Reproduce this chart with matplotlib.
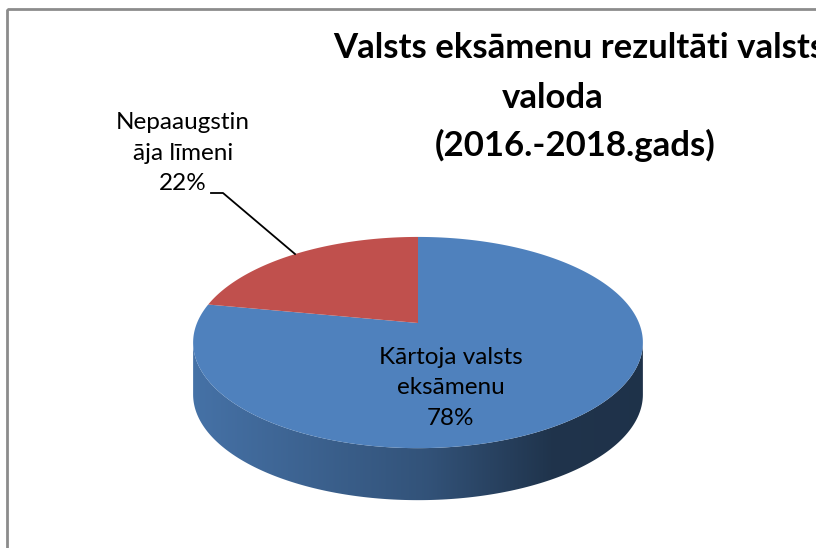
import numpy as np
import matplotlib
matplotlib.use("Agg")
import matplotlib.pyplot as plt
from matplotlib.patches import Polygon, Rectangle
from matplotlib.colors import LinearSegmentedColormap, to_rgb

# data
categories = ["Kārtoja valsts\neksāmenu", "Nepaaugstin\nāja līmeni"]
values = [78, 22]
colors = ["#4F81BD", "#C0504D"]
title_lines = ["Valsts eksāmenu rezultāti valsts", "valoda", "(2016.-2018.gads)"]

# 3d pie look (pixel space)
cx, cy = 418, 323
a, b, k = 221, 102, 0.185
depth = 52

def proj(th, dy=0):
    u, v = np.cos(th), np.sin(th)
    s = 1 + k * v
    return cx + a * u / s, cy - b * v / s + dy

fig = plt.figure(figsize=(8.16, 5.48), dpi=100)
ax = fig.add_axes([0, 0, 1, 1])
ax.set_xlim(0, 816)
ax.set_ylim(548, 0)
ax.axis("off")

# chart border
ax.add_patch(Rectangle((7, 9), 830, 560, fill=False, ec="#8c8c8c", lw=2))

total = float(sum(values))
start = np.pi / 2
edges = [start]
for v in values:
    edges.append(edges[-1] - 2 * np.pi * v / total)

# visible front arc of the side
lo = np.pi + np.arcsin(k)
hi = 2 * np.pi - np.arcsin(k)

for i, c in enumerate(colors):
    t0, t1 = edges[i + 1], edges[i]
    # side band
    for shift in (-2 * np.pi, 0, 2 * np.pi):
        s0, s1 = max(t0 + shift, lo), min(t1 + shift, hi)
        if s1 <= s0:
            continue
        th = np.linspace(s0, s1, 200)
        xt, yt = proj(th)
        xb, yb = proj(th[::-1], depth)
        poly = Polygon(np.column_stack([np.r_[xt, xb], np.r_[yt, yb]]),
                       closed=True, fc="none", ec="none")
        ax.add_patch(poly)
        base = np.array(to_rgb(c))
        cmap = LinearSegmentedColormap.from_list(
            "side", [(0, base * 0.88), (0.52, base * 0.64), (0.8, base * 0.40), (1, base * 0.39)])
        grad = np.linspace(0, 1, 256)[None, :]
        xl, xr = proj(lo)[0], proj(hi)[0]
        im = ax.imshow(grad, cmap=cmap, aspect="auto",
                       extent=(xl, xr, cy + 250, cy - 50), zorder=1)
        im.set_clip_path(poly)
    # top face
    th = np.linspace(t0, t1, 300)
    x, y = proj(th)
    ax.add_patch(Polygon(np.column_stack([np.r_[cx, x], np.r_[cy, y]]),
                         closed=True, fc=c, ec="none", zorder=2))

ax.set_xlim(0, 816)
ax.set_ylim(548, 0)

# data labels
lab_font = dict(family=["Lato", "DejaVu Sans"], fontsize=17.5, color="black",
                ha="center", va="center", linespacing=1.55)
ax.text(451, 388, categories[0] + "\n%d%%" % values[0], zorder=3, **lab_font)
ax.text(183, 153, categories[1] + "\n%d%%" % values[1], zorder=3, **lab_font)
ax.plot([211, 223, 295], [193, 193, 254], color="black", lw=1.3, zorder=3)

# title
tfont = dict(family=["Lato", "DejaVu Sans"], fontsize=25, fontweight="bold",
             color="black", va="center", zorder=3)
ax.text(333, 48, title_lines[0], ha="left", **tfont)
ax.text(553, 98, title_lines[1], ha="center", **tfont)
ax.text(575, 145, title_lines[2], ha="center", **tfont)

fig.savefig("out.png", dpi=100)
